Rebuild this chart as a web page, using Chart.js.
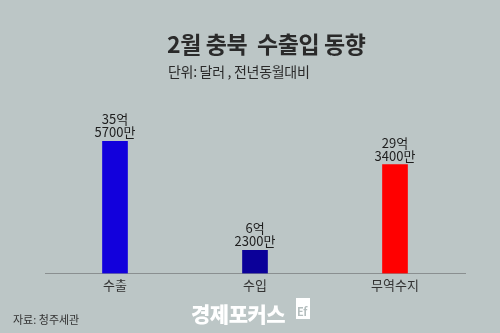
<!DOCTYPE html>
<html><head><meta charset="utf-8">
<script src="https://cdn.jsdelivr.net/npm/chart.js@4/dist/chart.umd.min.js"></script>
<style>
html,body{margin:0;padding:0;}
body{width:500px;height:333px;background:#bcc6c6;position:relative;overflow:hidden;font-family:"Noto Sans CJK KR","Noto Sans",sans-serif;}
#c{position:absolute;left:0;top:0;}
.t{position:absolute;white-space:nowrap;}
#title{left:167px;top:28px;font-size:23px;font-weight:700;color:#2a2a2a;letter-spacing:-0.4px;line-height:30px;}
#sub{left:168px;top:61px;font-size:14px;color:#2a2a2a;line-height:20px;letter-spacing:-0.3px;}
#src{left:13px;top:312px;font-size:11px;color:#333;line-height:15px;}
#logo{left:191px;top:299px;font-size:21px;font-weight:900;color:#ffffff;line-height:28px;letter-spacing:-0.5px;}
#box{position:absolute;left:296px;top:298px;width:14px;height:21px;background:#fff;}
#ef{position:absolute;left:297px;top:305px;font-size:11px;font-weight:700;color:#b4bebe;line-height:13px;letter-spacing:-0.5px;}
</style></head>
<body>
<canvas id="c" width="500" height="333"></canvas>
<div class="t" id="title">2월 충북&nbsp; 수출입 동향</div>
<div class="t" id="sub">단위: 달러 , 전년동월대비</div>
<div class="t" id="src">자료: 청주세관</div>
<div class="t" id="logo">경제포커스</div>
<div id="box"></div><div class="t" id="ef">Ef</div>
<script>
const categories = ["수출", "수입", "무역수지"];
const values = [35.57, 6.23, 29.34];          // 억 달러
const valueLabels = [["35억", "5700만"], ["6억", "2300만"], ["29억", "3400만"]];
const barColors = ["#1200dc", "#0b0099", "#ff0000"];

const labelPlugin = {
  id: 'valLabels',
  afterDatasetsDraw(chart) {
    const ctx = chart.ctx;
    const meta = chart.getDatasetMeta(0);
    ctx.save();
    ctx.fillStyle = '#1e1e1e';
    ctx.font = '13px "Noto Sans CJK KR", sans-serif';
    ctx.textAlign = 'center';
    ctx.textBaseline = 'alphabetic';
    meta.data.forEach((bar, i) => {
      const lines = valueLabels[i];
      ctx.fillText(lines[1], bar.x, bar.y - 4);
      ctx.fillText(lines[0], bar.x, bar.y - 17);
    });
    ctx.restore();
  }
};

new Chart(document.getElementById('c'), {
  type: 'bar',
  data: {
    labels: categories,
    datasets: [{ data: values, backgroundColor: barColors, barThickness: 25, borderWidth: 0 }]
  },
  options: {
    responsive: false,
    animation: false,
    layout: { padding: { left: 45, right: 35, top: 125, bottom: 36 } },
    plugins: { legend: { display: false }, tooltip: { enabled: false }, title: { display: false } },
    scales: {
      y: { display: false, min: 0, max: 40 },
      x: {
        grid: { display: false, drawTicks: false },
        border: { display: true, color: '#8a8f90', width: 1 },
        ticks: { color: '#333', font: { size: 13, family: '"Noto Sans CJK KR", sans-serif' }, padding: 4 }
      }
    }
  },
  plugins: [labelPlugin]
});
</script>
</body></html>
